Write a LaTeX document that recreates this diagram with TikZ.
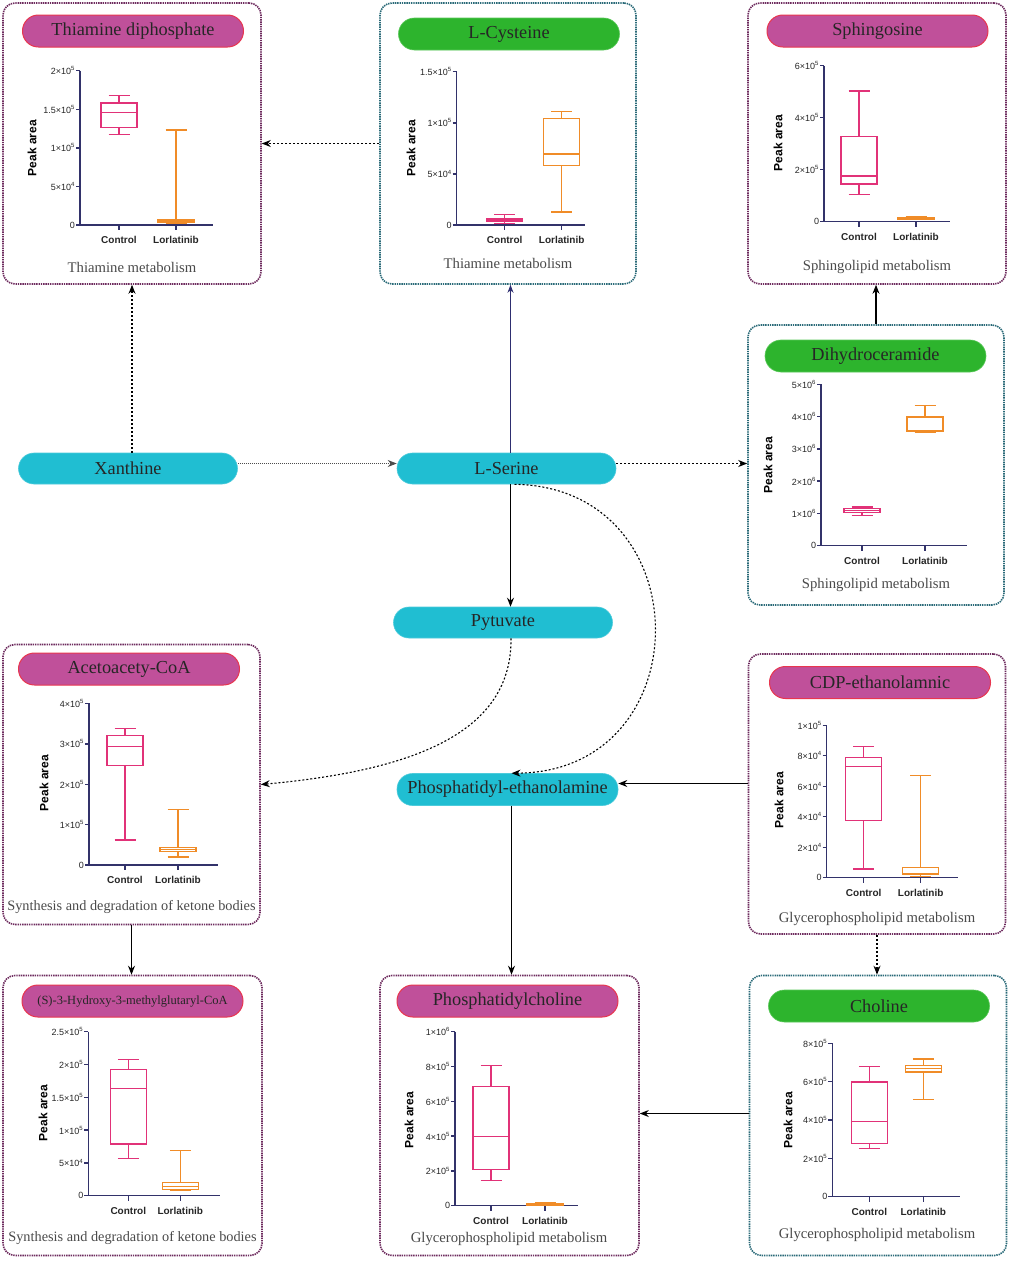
\documentclass[tikz,border=0pt]{standalone}
\usepackage{fontspec}
\setmainfont{Liberation Serif}
\setsansfont{Liberation Sans}
\usetikzlibrary{arrows.meta}
\definecolor{boxpurple}{HTML}{6E2B5E}
\definecolor{boxteal}{HTML}{2A6A78}
\definecolor{pillM}{HTML}{C0509A}
\definecolor{pillMb}{HTML}{E8364F}
\definecolor{pillG}{HTML}{2DB42D}
\definecolor{pillGb}{HTML}{5AC85A}
\definecolor{pillC}{HTML}{20BED2}
\definecolor{ctrl}{HTML}{E13278}
\definecolor{lorl}{HTML}{F08C28}
\definecolor{axisc}{HTML}{32326A}
\definecolor{subg}{HTML}{4A4A4A}
\definecolor{bluecon}{HTML}{2E2E70}
\newcommand\hf{\fontsize{18.3}{21}\selectfont}
\newcommand\sci[2]{#1×10\textsuperscript{#2}}
\newcommand\bxp[7]{%
  \draw[#7, line width=1.2pt] (#1,#2) -- (#1,#3) (#1,#5) -- (#1,#6)
    (#1-10.5,#2) -- (#1+10.5,#2) (#1-10.5,#6) -- (#1+10.5,#6)
    (#1-18,#4) -- (#1+18,#4);
  \draw[#7, line width=1.2pt] (#1-18,#3) rectangle (#1+18,#5);
}
\newcommand\chaxes[5]{%
  \draw[axisl] (0,#2) -- (0,0) -- (#1,0);
  \foreach \i/\l in {#5} {\draw[axisl] (-4,\i) -- (0,\i); \node[ticklab] at (-4.5,\i) {\l};}
  \draw[axisl] (#3,0) -- (#3,-5/\st) (#4,0) -- (#4,-5/\st);
  \node[catlab] at (#3,-15/\st) {Control};
  \node[catlab] at (#4,-15/\st) {Lorlatinib};
}
\tikzset{
  pbox/.style={draw=boxpurple, dash pattern=on 1.4pt off 0.9pt, line width=1.6pt, rounded corners=12pt, fill=white},
  tbox/.style={draw=boxteal, dash pattern=on 1.4pt off 0.9pt, line width=1.6pt, rounded corners=12pt, fill=white},
  hdrM/.style={rounded corners=15.9pt, fill=pillM, draw=pillMb, line width=1pt, minimum width=221pt, minimum height=32pt, font=\hf, text=black!85},
  hdrG/.style={rounded corners=15.9pt, fill=pillG, draw=pillGb, line width=0.6pt, minimum width=221pt, minimum height=32pt, font=\hf, text=black!85},
  cpill/.style={rounded corners=15.5pt, fill=pillC, draw=pillC!80!white, line width=0.6pt, minimum width=219pt, minimum height=31pt, font=\hf, text=black!85},
  subt/.style={font=\fontsize{14.7}{16}\selectfont, text=subg},
  axisl/.style={draw=axisc, line width=1.4pt},
  ticklab/.style={anchor=east, inner sep=0.3pt, font=\sffamily\fontsize{9}{10}\selectfont, text=black!85},
  catlab/.style={inner sep=0pt, font=\sffamily\bfseries\fontsize{10}{11}\selectfont, text=black!85},
  peak/.style={rotate=90, inner sep=0pt, font=\sffamily\bfseries\fontsize{12}{12}\selectfont},
  solarr/.style={draw=black, line width=1.1pt, -{Stealth[length=9pt,width=7pt]}},
  dotarr/.style={draw=black, line width=1.1pt, dash pattern=on 2pt off 2pt, -{Stealth[length=9pt,width=7pt]}},
  fdotarr/.style={draw=black!70, line width=0.9pt, dash pattern=on 1.2pt off 0.8pt, -{Stealth[length=9pt,width=7pt]}},
  bluarr/.style={draw=bluecon, line width=0.9pt, -{Stealth[length=8pt,width=6pt]}},
}
\begin{document}
\begin{tikzpicture}[x=1pt,y=-1pt]
\fill[white] (0,0) rectangle (1010,1261);
\useasboundingbox (0,0) rectangle (1010,1261);

% ---------- panels ----------
\node[pbox, minimum width=258pt, minimum height=281pt] (b1) at (132,143.5) {};
\node[tbox, minimum width=256pt, minimum height=281pt] (b2) at (508,143.5) {};
\node[pbox, minimum width=258pt, minimum height=281pt] (b3) at (877,143.5) {};
\node[tbox, minimum width=256pt, minimum height=280pt] (b4) at (876,465) {};
\node[pbox, minimum width=257pt, minimum height=280pt] (b5) at (131.5,784.5) {};
\node[pbox, minimum width=257pt, minimum height=280pt] (b6) at (877,794) {};
\node[pbox, minimum width=259pt, minimum height=280pt] (b7) at (132.5,1115.5) {};
\node[pbox, minimum width=259pt, minimum height=280pt] (b8) at (509.5,1115.5) {};
\node[tbox, minimum width=257pt, minimum height=280pt] (b9) at (878,1115.5) {};

% ---------- headers ----------
\node[hdrM] (h1) at (133,31) {Thiamine diphosphate};
\node[hdrG] (h2) at (509,34) {L-Cysteine};
\node[hdrM] (h3) at (877.5,31) {Sphingosine};
\node[hdrG] (h4) at (875.5,356) {Dihydroceramide};
\node[hdrM] (h5) at (129,669) {Acetoacety-CoA};
\node[hdrM] (h6) at (880,682.5) {CDP-ethanolamnic};
\node[hdrM, font=\fontsize{12.5}{14}\selectfont] (h7) at (132.5,1001) {(S)-3-Hydroxy-3-methylglutaryl-CoA};
\node[hdrM] (h8) at (507.5,1001) {Phosphatidylcholine};
\node[hdrG] (h9) at (879,1006) {Choline};

% ---------- subtitles ----------
\node[subt] (s1) at (132,267) {Thiamine metabolism};
\node[subt] (s2) at (508,263) {Thiamine metabolism};
\node[subt] (s3) at (877,267) {Sphingolipid metabolism};
\node[subt] (s4) at (876,585) {Sphingolipid metabolism};
\node[subt, font=\fontsize{14.3}{16}\selectfont] (s5) at (131.5,907) {Synthesis and degradation of ketone bodies};
\node[subt] (s6) at (877,919) {Glycerophospholipid metabolism};
\node[subt, font=\fontsize{14.3}{16}\selectfont] (s7) at (132.5,1238) {Synthesis and degradation of ketone bodies};
\node[subt] (s8) at (509,1239) {Glycerophospholipid metabolism};
\node[subt] (s9) at (877,1235) {Glycerophospholipid metabolism};

% ---------- Peak area labels ----------
\node[peak] (p1) at (32,148) {Peak area};
\node[peak] (p2) at (411,148) {Peak area};
\node[peak] (p3) at (778,143) {Peak area};
\node[peak] (p4) at (768,465) {Peak area};
\node[peak] (p5) at (44,783) {Peak area};
\node[peak] (p6) at (779,800) {Peak area};
\node[peak] (p7) at (43,1113) {Peak area};
\node[peak] (p8) at (409,1120) {Peak area};
\node[peak] (p9) at (788,1120) {Peak area};

% ---------- charts ----------
\begin{scope}[shift={(80,225)},yscale=-38.6]\def\st{38.6}
\chaxes{133}{4}{39}{96}{0/0,1/\sci{5}{4},2/\sci{1}{5},3/\sci{1.5}{5},4/\sci{2}{5}}
\bxp{39}{2.34}{2.52}{2.92}{3.16}{3.36}{ctrl}
\bxp{96}{0.04}{0.06}{0.1}{0.13}{2.46}{lorl}
\end{scope}

\begin{scope}[shift={(456.7,225)},yscale=-51.1]\def\st{51.1}
\chaxes{128}{3}{48}{105}{0/0,1/\sci{5}{4},2/\sci{1}{5},3/\sci{1.5}{5}}
\bxp{48}{0.03}{0.08}{0.11}{0.13}{0.2}{ctrl}
\bxp{105}{0.254}{1.16}{1.39}{2.09}{2.22}{lorl}
\end{scope}

\begin{scope}[shift={(824,221.7)},yscale=-52]\def\st{52}
\chaxes{126}{3}{35}{92}{0/0,1/\sci{2}{5},2/\sci{4}{5},3/\sci{6}{5}}
\bxp{35}{0.53}{0.725}{0.88}{1.635}{2.515}{ctrl}
\bxp{92}{0.05}{0.05}{0.06}{0.08}{0.09}{lorl}
\end{scope}

\begin{scope}[shift={(821,545.7)},yscale=-32.3]\def\st{32.3}
\chaxes{146}{5}{41}{104}{0/0,1/\sci{1}{6},2/\sci{2}{6},3/\sci{3}{6},4/\sci{4}{6},5/\sci{5}{6}}
\bxp{41}{0.93}{1.03}{1.1}{1.15}{1.2}{ctrl}
\bxp{104}{3.5}{3.55}{3.97}{4.0}{4.33}{lorl}
\end{scope}

\begin{scope}[shift={(89,865)},yscale=-40.4]\def\st{40.4}
\chaxes{129}{4}{36}{89}{0/0,1/\sci{1}{5},2/\sci{2}{5},3/\sci{3}{5},4/\sci{4}{5}}
\bxp{36}{0.62}{2.46}{2.93}{3.2}{3.38}{ctrl}
\bxp{89}{0.2}{0.34}{0.39}{0.44}{1.38}{lorl}
\end{scope}

\begin{scope}[shift={(826.7,877.7)},yscale=-30.5]\def\st{30.5}
\chaxes{131}{5}{37}{94}{0/0,1/\sci{2}{4},2/\sci{4}{4},3/\sci{6}{4},4/\sci{8}{4},5/\sci{1}{5}}
\bxp{37}{0.285}{1.865}{3.65}{3.94}{4.29}{ctrl}
\bxp{94}{0.05}{0.1}{0.14}{0.34}{3.34}{lorl}
\end{scope}

\begin{scope}[shift={(88.3,1195.7)},yscale=-32.8]\def\st{32.8}
\chaxes{132}{5}{40}{92}{0/0,1/\sci{5}{4},2/\sci{1}{5},3/\sci{1.5}{5},4/\sci{2}{5},5/\sci{2.5}{5}}
\bxp{40}{1.126}{1.574}{3.26}{3.86}{4.16}{ctrl}
\bxp{92}{0.152}{0.192}{0.274}{0.406}{1.39}{lorl}
\end{scope}

\begin{scope}[shift={(455,1205.7)},yscale=-34.8]\def\st{34.8}
\chaxes{123}{5}{36}{90}{0/0,1/\sci{2}{5},2/\sci{4}{5},3/\sci{6}{5},4/\sci{8}{5},5/\sci{1}{6}}
\bxp{36}{0.72}{1.035}{1.99}{3.42}{4.035}{ctrl}
\bxp{90}{0.02}{0.02}{0.04}{0.06}{0.085}{lorl}
\end{scope}

\begin{scope}[shift={(832.3,1196.7)},yscale=-38.35]\def\st{38.35}
\chaxes{128}{4}{37}{91}{0/0,1/\sci{2}{5},2/\sci{4}{5},3/\sci{6}{5},4/\sci{8}{5}}
\bxp{37}{1.26}{1.385}{1.965}{2.99}{3.39}{ctrl}
\bxp{91}{2.525}{3.25}{3.35}{3.425}{3.59}{lorl}
\end{scope}

% ---------- metabolite pills ----------
\node[cpill] (xan) at (128,468.5) {Xanthine};
\node[cpill] (ser) at (506.5,468.5) {L-Serine};
\node[cpill] (pyt) at (503,622.5) {Pytuvate};
\node[cpill, minimum width=221pt, minimum height=32pt] (pe) at (507.5,789.5) {Phosphatidyl-ethanolamine};

% ---------- connectors ----------
\draw[dotarr] (b2.west) -- (b1.east);
\draw[dotarr] (xan.north -| b1.south) -- (b1.south);
\draw[bluarr] ([xshift=4pt]ser.north) -- ([xshift=4pt]ser.north |- b2.south);
\draw[fdotarr] ([yshift=5pt]xan.east) -- ([yshift=5pt]ser.west);
\draw[dotarr] ([yshift=5pt]ser.east) -- ([yshift=5pt]ser.east -| b4.west);
\draw[solarr] (b4.north) -- (b4.north |- b3.south);
\draw[solarr] ([xshift=4pt]ser.south) -- ([xshift=4pt]ser.south |- pyt.north);
\draw[dotarr] ([xshift=8pt]ser.south) .. controls (702,487) and (702,772) .. ([xshift=4pt]pe.north);
\draw[dotarr] ([xshift=8pt]pyt.south) .. controls (512,730) and (420,770) .. (b5.east);
\draw[solarr] ([yshift=6pt]pe.east -| b6.west) -- ([yshift=6pt]pe.east);
\draw[solarr] ([xshift=4pt]pe.south) -- ([xshift=4pt]pe.south |- b8.north);
\draw[solarr] (b5.south) -- (b5.south |- b7.north);
\draw[dotarr] (b6.south) -- (b6.south |- b9.north);
\draw[solarr] ([yshift=2pt]b9.west) -- ([yshift=2pt]b9.west -| b8.east);
\end{tikzpicture}
\end{document}
